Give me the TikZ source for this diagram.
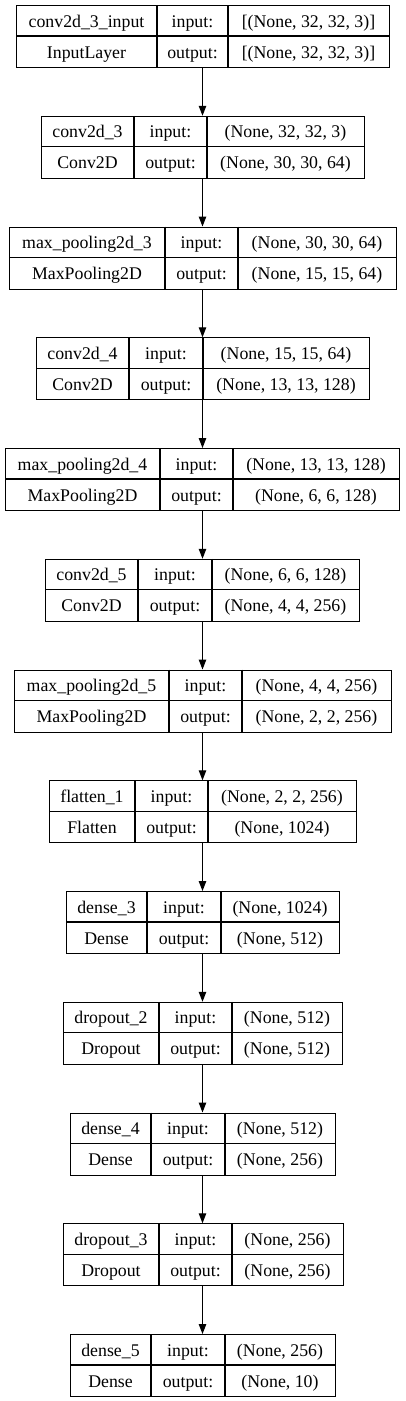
\documentclass[tikz,border=0pt]{standalone}
\usepackage{fontspec}
\setmainfont{Liberation Serif}
\usetikzlibrary{arrows.meta}
\begin{document}
\begin{tikzpicture}[x=1pt,y=-1pt,line width=1.2pt,
    every node/.style={font=\fontsize{17.8}{20}\selectfont,inner sep=0pt},
    cell/.style={anchor=base},
    box/.style={draw,minimum height=62pt,anchor=north west},
    conn/.style={-{Triangle[length=10pt,width=7.5pt]}}]
    \useasboundingbox (0,0) rectangle (405,1401);
    \coordinate (ax) at (202.5,0);
    \foreach \i/\xa/\xb/\xc/\xd/\nm/\ty/\sin/\sout in {
        0/16/157/228/389/{conv2d\_3\_input}/InputLayer/{[(None, 32, 32, 3)]}/{[(None, 32, 32, 3)]},
        1/41/134/207/364/{conv2d\_3}/Conv2D/{(None, 32, 32, 3)}/{(None, 30, 30, 64)},
        2/9/165/238/396/{max\_pooling2d\_3}/MaxPooling2D/{(None, 30, 30, 64)}/{(None, 15, 15, 64)},
        3/36/129/203/369/{conv2d\_4}/Conv2D/{(None, 15, 15, 64)}/{(None, 13, 13, 128)},
        4/5/160/233/399/{max\_pooling2d\_4}/MaxPooling2D/{(None, 13, 13, 128)}/{(None, 6, 6, 128)},
        5/45/138/212/359/{conv2d\_5}/Conv2D/{(None, 6, 6, 128)}/{(None, 4, 4, 256)},
        6/14/169/242/391/{max\_pooling2d\_5}/MaxPooling2D/{(None, 4, 4, 256)}/{(None, 2, 2, 256)},
        7/49/135/208/356/{flatten\_1}/Flatten/{(None, 2, 2, 256)}/{(None, 1024)},
        8/66/147/221/339/{dense\_3}/Dense/{(None, 1024)}/{(None, 512)},
        9/63/159/232/342/{dropout\_2}/Dropout/{(None, 512)}/{(None, 512)},
        10/70/151/225/335/{dense\_4}/Dense/{(None, 512)}/{(None, 256)},
        11/63/159/232/343/{dropout\_3}/Dropout/{(None, 256)}/{(None, 256)},
        12/70/151/225/335/{dense\_5}/Dense/{(None, 256)}/{(None, 10)}}{
        \pgfmathsetmacro{\t}{5+\i*110.75}
        \node[box,minimum width={(\xd-\xa)*1pt}] (l\i) at (\xa,\t) {};
        \draw (\xb,\t) -- (\xb,\t+62) (\xc,\t) -- (\xc,\t+62) (\xa,\t+31) -- (\xd,\t+31);
        \node[cell] (n\i) at ({(\xa+\xb)/2},\t+22) {\nm};
        \node[cell] (t\i) at ({(\xa+\xb)/2},\t+53) {\ty};
        \node[cell] (ki\i) at ({(\xb+\xc)/2},\t+22) {input:};
        \node[cell] (ko\i) at ({(\xb+\xc)/2},\t+53) {output:};
        \node[cell] (si\i) at ({(\xc+\xd)/2},\t+22) {\sin};
        \node[cell] (so\i) at ({(\xc+\xd)/2},\t+53) {\sout};
    }
    \foreach \i [evaluate=\i as \j using int(\i+1)] in {0,...,11}
        \draw[conn] (l\i.south -| ax) -- (l\j.north -| ax);
\end{tikzpicture}
\end{document}
